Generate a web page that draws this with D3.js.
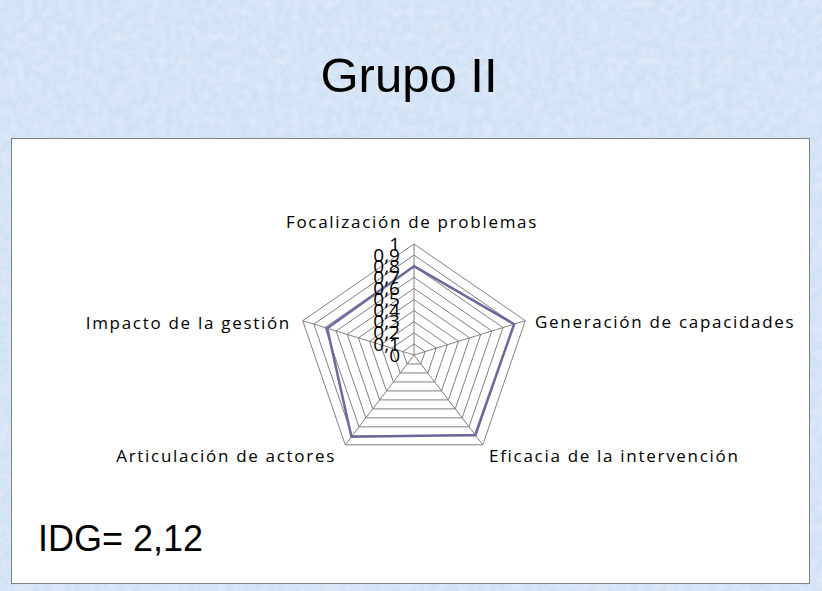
<!DOCTYPE html>
<html><head><meta charset="utf-8">
<script src="https://cdn.jsdelivr.net/npm/d3@7/dist/d3.min.js"></script>
<style>body{margin:0;padding:0;overflow:hidden}svg{display:block}</style>
</head><body>
<svg id="chart" width="822" height="591"></svg>
<script>
const title = "Grupo II";
const note = "IDG= 2,12";
const categories = ["Focalización de problemas","Generación de capacidades","Eficacia de la intervención","Articulación de actores","Impacto de la gestión"];
const values = [0.80, 0.90, 0.89, 0.91, 0.78];
const tickValues = [0,0.1,0.2,0.3,0.4,0.5,0.6,0.7,0.8,0.9,1];
const tickLabels = ["0","0,1","0,2","0,3","0,4","0,5","0,6","0,7","0,8","0,9","1"];

const svg = d3.select("#chart");
const W = 822, H = 591;
const defs = svg.append("defs");
const f = defs.append("filter").attr("id","tex").attr("x",0).attr("y",0).attr("width","100%").attr("height","100%");
f.append("feTurbulence").attr("type","fractalNoise").attr("baseFrequency","0.12").attr("numOctaves",3).attr("seed",4).attr("result","n");
f.append("feColorMatrix").attr("in","n").attr("type","matrix")
 .attr("values","0 0 0 0 1  0 0 0 0 1  0 0 0 0 1  1.2 0 0 0 -0.45");
svg.append("rect").attr("width",W).attr("height",H).attr("fill","#d2e2f5");
svg.append("rect").attr("width",W).attr("height",H).attr("filter","url(#tex)").attr("opacity",0.5);

svg.append("text").attr("x",409).attr("y",92).attr("text-anchor","middle")
  .attr("font-family","Liberation Sans, Arial, sans-serif").attr("font-size",49).attr("fill","#000").text(title);

svg.append("rect").attr("x",11.5).attr("y",138.5).attr("width",798).attr("height",445)
  .attr("fill","#fff").attr("stroke","#808080").attr("stroke-width",1);

const cx = 414, cy = 355, rx = 117, ry = 111;
const r = d3.scaleLinear().domain([0,1]).range([0,1]);
const angle = i => -Math.PI/2 + i*2*Math.PI/categories.length;
const pt = (i,v) => [cx + rx*r(v)*Math.cos(angle(i)), cy + ry*r(v)*Math.sin(angle(i))];

const g = svg.append("g");
tickValues.slice(1).forEach(t => {
  g.append("path").attr("d", d3.line()(categories.map((c,i)=>pt(i,t))) + "Z")
   .attr("fill","none").attr("stroke","#808080").attr("stroke-width",1);
});
categories.forEach((c,i)=>{
  g.append("line").attr("x1",cx).attr("y1",cy).attr("x2",pt(i,1)[0]).attr("y2",pt(i,1)[1])
   .attr("stroke","#808080").attr("stroke-width",1);
});
g.append("path").attr("d", d3.line()(values.map((v,i)=>pt(i,v))) + "Z")
  .attr("fill","none").attr("stroke","#6a6a9c").attr("stroke-width",2.5).attr("stroke-linejoin","miter");

tickValues.forEach((t,k)=>{
  g.append("text").attr("x",cx-14).attr("y",pt(0,t)[1]).attr("dy","0.35em").attr("text-anchor","end")
   .attr("font-family","Open Sans, sans-serif").attr("font-size",19).attr("fill","#000").text(tickLabels[k]);
});

const lab = [
  {x:412,y:222,a:"middle"},
  {x:535,y:322,a:"start"},
  {x:489,y:456,a:"start"},
  {x:336,y:456,a:"end"},
  {x:291,y:323,a:"end"}
];
categories.forEach((c,i)=>{
  g.append("text").attr("x",lab[i].x).attr("y",lab[i].y).attr("dy","0.35em").attr("text-anchor",lab[i].a)
   .attr("font-family","Open Sans, sans-serif").attr("font-size",17).attr("letter-spacing",1.7).attr("fill","#000").text(c);
});

svg.append("text").attr("x",38).attr("y",551)
  .attr("font-family","Liberation Sans, Arial, sans-serif").attr("font-size",36).attr("fill","#000").text(note);
</script>
</body></html>
